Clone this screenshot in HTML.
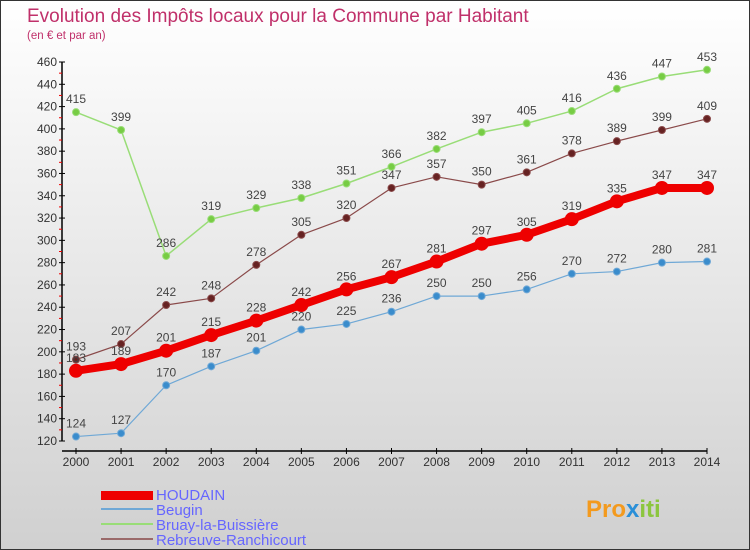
<!DOCTYPE html>
<html><head><meta charset="utf-8"><style>
body{margin:0}
#c{position:relative;width:748px;height:548px;border:1px solid #333;background:linear-gradient(#fff,#d0d0d0);font-family:"Liberation Sans",sans-serif;overflow:hidden}
</style></head><body>
<div id="c">
<svg id="s" width="748" height="548" style="position:absolute;left:0;top:0">
<text x="26" y="21" font-size="19" fill="#c0306a">Evolution des Impôts locaux pour la Commune par Habitant</text>
<text x="26" y="38" font-size="11.5" fill="#c0306a">(en € et par an)</text>
<g id="axes"></g><g id="series"></g>
<g>
<rect x="100" y="490" width="52" height="9" fill="#e00"/>
<text x="155" y="499" font-size="15" fill="#66f">HOUDAIN</text>
<rect x="100" y="507" width="52" height="2" fill="#6fa8d6"/>
<text x="155" y="514" font-size="15" fill="#66f">Beugin</text>
<rect x="100" y="522" width="52" height="2" fill="#99dd77"/>
<text x="155" y="529" font-size="15" fill="#66f">Bruay-la-Buissière</text>
<rect x="100" y="537" width="52" height="2" fill="#9a6a6a"/>
<text x="155" y="544" font-size="15" fill="#66f">Rebreuve-Ranchicourt</text>
</g>
<text x="585" y="516" font-size="24" font-weight="bold" fill="#f39a1e">Pro<tspan fill="#2a8fd8">x</tspan><tspan fill="#8cc63f">iti</tspan></text>
</svg>
</div>
<script>
const years=[2000,2001,2002,2003,2004,2005,2006,2007,2008,2009,2010,2011,2012,2013,2014];
const yTicks=[120,140,160,180,200,220,240,260,280,300,320,340,360,380,400,420,440,460];
const houdain=[183,189,201,215,228,242,256,267,281,297,305,319,335,347,347];
const beugin=[124,127,170,187,201,220,225,236,250,250,256,270,272,280,281];
const bruay=[415,399,286,319,329,338,351,366,382,397,405,416,436,447,453];
const rebreuve=[193,207,242,248,278,305,320,347,357,350,361,378,389,399,409];
const NS="http://www.w3.org/2000/svg";
const X=i=>75+i*(631/14);
const Y=v=>61+(460-v)*(379/340);
function mk(tag,at,parent){const e=document.createElementNS(NS,tag);for(const k in at)e.setAttribute(k,at[k]);parent.appendChild(e);return e;}
const ax=document.getElementById('axes');
let l=mk('line',{x1:61,y1:61,x2:61,y2:440,stroke:'#000','stroke-width':1.5},ax);


l=mk('line',{x1:61,y1:450,x2:706,y2:450,stroke:'#000','stroke-width':1.5},ax);


yTicks.forEach((v,i)=>{
 mk('line',{x1:58,x2:64,y1:Y(v),y2:Y(v),stroke:'#000'},ax);
 if(i<yTicks.length-1)mk('line',{x1:58,x2:61,y1:Y(v+10),y2:Y(v+10),stroke:'#e00'},ax);
 const t=mk('text',{x:56,y:Y(v)+4,'font-size':12,'text-anchor':'end',fill:'#333'},ax);
 t.textContent=v;
 
 
});
years.forEach((y,i)=>{
 mk('line',{x1:X(i),x2:X(i),y1:447,y2:453,stroke:'#000'},ax);
 const t=mk('text',{x:X(i),y:465,'font-size':12,'text-anchor':'middle',fill:'#333'},ax);
 t.textContent=y;
 
 
});
const sg=document.getElementById('series');
function draw(vals,color,w,r,name,dot){
 const g=mk('g',{},sg);
 
 
 mk('polyline',{points:vals.map((v,i)=>X(i)+','+Y(v)).join(' '),fill:'none',stroke:color,'stroke-width':w,'stroke-linejoin':'round'},g);
 vals.forEach((v,i)=>{
  const c=mk('circle',{cx:X(i),cy:Y(v),r:r,fill:dot,stroke:color,'stroke-width':1},g);
  
  
  const t=mk('text',{x:X(i),y:Y(v)-9,'font-size':12,'text-anchor':'middle',fill:'#444'},g);
  t.textContent=v;
  
  
 });
}
draw(bruay,'#99dd77',1.5,3.5,'bruay','#77cc44');
draw(rebreuve,'#8a4a4a',1.2,3.5,'rebreuve','#662222');
draw(beugin,'#6fa8d6',1.2,3.5,'beugin','#3a8ccc');
draw(houdain,'#e00',8,6.5,'houdain','#e00');
</script>
</body></html>
